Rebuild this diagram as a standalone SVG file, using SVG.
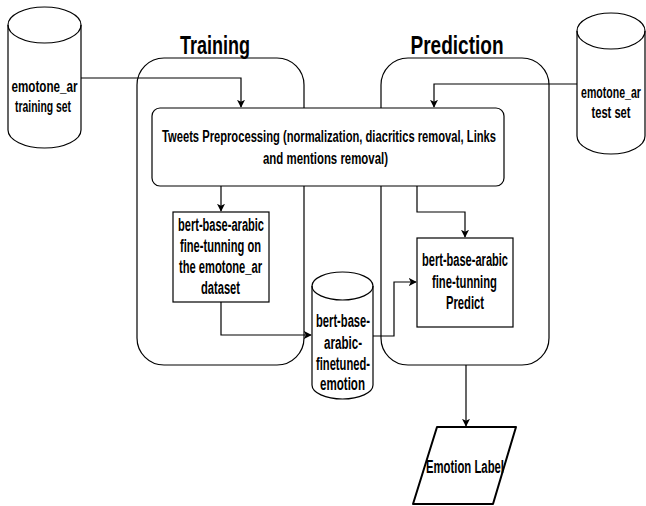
<svg xmlns="http://www.w3.org/2000/svg" width="646" height="506" viewBox="0 0 646 506">
<style>
.shape{fill:#fff;stroke:#000;stroke-width:1.2}
.cont{fill:none;stroke:#000;stroke-width:1.2}
.conn{fill:none;stroke:#000;stroke-width:1.2}
text{font-family:"Liberation Sans",Arial,sans-serif;font-weight:bold;fill:#000;text-anchor:middle}
.t{font-size:18px}
.s{font-size:16px}
.p{font-size:16px}
.h{font-size:25px}
</style>
<defs>
<marker id="arr" viewBox="0 0 10 10" refX="9" refY="5" markerWidth="8" markerHeight="8" markerUnits="userSpaceOnUse" orient="auto">
<path d="M0,0 L10,5 L0,10 L2.5,5 Z" fill="#000"/>
</marker>
</defs>
<rect width="646" height="506" fill="#fff"/>

<g id="training-container">
<rect class="cont" x="137" y="58" width="167" height="307" rx="27" ry="27"/>
<text class="h" x="215" y="54" textLength="70" lengthAdjust="spacingAndGlyphs">Training</text>
</g>
<g id="prediction-container">
<rect class="cont" x="381" y="58" width="168" height="307" rx="27" ry="27"/>
<text class="h" x="457" y="54" textLength="93" lengthAdjust="spacingAndGlyphs">Prediction</text>
</g>

<g id="training-set">
<path class="shape" d="M8,25 A36.5,18 0 0 1 81,25 L81,130 A36.5,18 0 0 1 8,130 Z"/>
<path class="cont" d="M8,25 A36.5,18 0 0 0 81,25"/>
<text class="s" x="44.5" y="92" textLength="66" lengthAdjust="spacingAndGlyphs">emotone_ar</text>
<text class="s" x="43" y="112" textLength="56" lengthAdjust="spacingAndGlyphs">training set</text>
</g>

<g id="test-set">
<path class="shape" d="M577,31 A34,18 0 0 1 645,31 L645,136 A34,18 0 0 1 577,136 Z"/>
<path class="cont" d="M577,31 A34,18 0 0 0 645,31"/>
<text class="s" transform="translate(611,98) scale(0.66,1)" x="0" y="0">emotone_ar</text>
<text class="s" x="611" y="118" textLength="39" lengthAdjust="spacingAndGlyphs">test set</text>
</g>

<g id="preprocessing">
<rect class="shape" x="152" y="108" width="352" height="78" rx="8" ry="8"/>
<text class="p" x="329" y="142" textLength="334" lengthAdjust="spacingAndGlyphs">Tweets Preprocessing (normalization, diacritics removal, Links</text>
<text class="p" x="325.5" y="164" textLength="125" lengthAdjust="spacingAndGlyphs">and mentions removal)</text>
</g>

<g id="finetune">
<rect class="shape" x="173" y="212" width="96" height="90"/>
<text class="t" x="221" y="231" textLength="86" lengthAdjust="spacingAndGlyphs">bert-base-arabic</text>
<text class="t" x="220.5" y="252" textLength="81" lengthAdjust="spacingAndGlyphs">fine-tunning on</text>
<text class="t" x="220.5" y="273" textLength="83" lengthAdjust="spacingAndGlyphs">the emotone_ar</text>
<text class="t" x="220.5" y="294" textLength="39" lengthAdjust="spacingAndGlyphs">dataset</text>
</g>

<g id="finetuned-model">
<path class="shape" d="M312,286 A30.5,14 0 0 1 373,286 L373,385 A30.5,14 0 0 1 312,385 Z"/>
<path class="cont" d="M312,286 A30.5,14 0 0 0 373,286"/>
<text class="t" x="343" y="327" textLength="54" lengthAdjust="spacingAndGlyphs">bert-base-</text>
<text class="t" x="343" y="348.5" textLength="38" lengthAdjust="spacingAndGlyphs">arabic-</text>
<text class="t" x="343" y="370" textLength="54" lengthAdjust="spacingAndGlyphs">finetuned-</text>
<text class="t" x="342.5" y="390" textLength="45" lengthAdjust="spacingAndGlyphs">emotion</text>
</g>

<g id="predict">
<rect class="shape" x="417" y="238" width="96" height="89"/>
<text class="t" x="465" y="266" textLength="86" lengthAdjust="spacingAndGlyphs">bert-base-arabic</text>
<text class="t" x="464.5" y="288" textLength="65" lengthAdjust="spacingAndGlyphs">fine-tunning</text>
<text class="t" x="465" y="309" textLength="38" lengthAdjust="spacingAndGlyphs">Predict</text>
</g>

<g id="emotion-label">
<path d="M437,427 L516,427 L493,504 L413,504 Z" fill="#fff" stroke="#000" stroke-width="2" stroke-linejoin="round"/>
<text class="t" x="465" y="473" textLength="78" lengthAdjust="spacingAndGlyphs">Emotion Label</text>
</g>

<g id="connectors">
<path class="conn" d="M81,78 L241,78 L241,107" marker-end="url(#arr)"/>
<path class="conn" d="M577,84 L434,84 L434,107" marker-end="url(#arr)"/>
<path class="conn" d="M221,186 L221,211" marker-end="url(#arr)"/>
<path class="conn" d="M221,302 L221,335 L311,335" marker-end="url(#arr)"/>
<path class="conn" d="M373,336 L394,336 L394,282 L416,282" marker-end="url(#arr)"/>
<path class="conn" d="M417,186 L417,212 L465,212 L465,237" marker-end="url(#arr)"/>
<path class="conn" d="M466,365 L466,426" marker-end="url(#arr)"/>
</g>
</svg>
